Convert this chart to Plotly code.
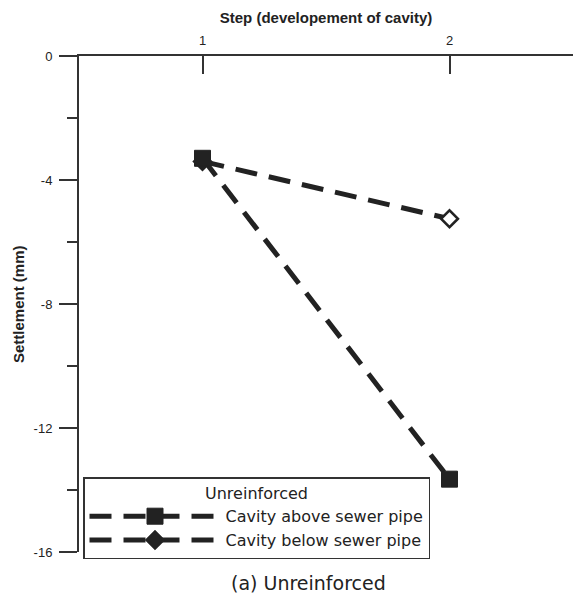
import plotly.graph_objects as go

steps = [1, 2]
above = [-3.3, -13.65]
below = [-3.4, -5.25]
series_names = ["Cavity above sewer pipe", "Cavity below sewer pipe"]
y_ticks = [0, -4, -8, -12, -16]
y_tick_labels = ["0", "-4", "-8", "-12", "-16"]

ink = "#222222"
fig = go.Figure()
fig.add_trace(go.Scatter(
    x=steps, y=below, name=series_names[1], mode="lines+markers",
    line=dict(color=ink, width=5, dash="22px,12px"),
    marker=dict(symbol="diamond", size=13, color=[ink, "white"],
                line=dict(color=ink, width=2.5)),
))
fig.add_trace(go.Scatter(
    x=steps, y=above, name=series_names[0], mode="lines+markers",
    line=dict(color=ink, width=5, dash="22px,12px"),
    marker=dict(symbol="square", size=16, color=ink,
                line=dict(color=ink, width=1)),
))

fig.update_layout(
    width=573, height=602,
    margin=dict(l=79, r=0, t=56, b=50, autoexpand=False),
    paper_bgcolor="white", plot_bgcolor="white",
    font=dict(family="Liberation Sans, Arial, sans-serif", color=ink, size=13),
    showlegend=True,
    legend=dict(
        xref="container", yref="container",
        x=83 / 573, y=(602 - 559) / 602, xanchor="left", yanchor="bottom",
        bgcolor="white", bordercolor="#333", borderwidth=1.5,
        font=dict(size=16, family="DejaVu Sans, sans-serif"),
        title=dict(text="Unreinforced", side="top center",
                   font=dict(size=16, family="DejaVu Sans, sans-serif")),
        traceorder="reversed", itemwidth=131,
        entrywidth=356,
    ),
    xaxis=dict(
        side="top", range=[0.5, 2.5], tickvals=steps,
        ticktext=[str(s) for s in steps],
        ticks="inside", ticklen=18, tickwidth=1.5, tickcolor="#333",
        ticklabelstandoff=4,
        showline=True, linecolor="#333", linewidth=2,
        showgrid=False, zeroline=False,
        tickfont=dict(size=13),
        title=dict(text="<b>Step (developement of cavity)</b>", font=dict(size=15), standoff=6),
    ),
    yaxis=dict(
        range=[-16, 0], tickvals=y_ticks, ticktext=y_tick_labels,
        ticks="outside", ticklen=18, tickwidth=1.5, tickcolor="#333",
        ticklabelstandoff=4,
        showline=True, linecolor="#333", linewidth=2,
        showgrid=False, zeroline=False,
        tickfont=dict(size=13),
        minor=dict(dtick=2, ticks="outside", ticklen=10, tickwidth=1.5, tickcolor="#333", showgrid=False),
    ),
    annotations=[
        dict(
            text="(a) Unreinforced", xref="paper", yref="paper",
            x=0.465, y=-(583 - 552) / 496, xanchor="center", yanchor="middle", showarrow=False,
            font=dict(size=19, family="DejaVu Sans, sans-serif", color=ink),
        ),
        dict(
            text="<b>Settlement (mm)</b>", xref="paper", yref="paper",
            x=-(79 - 18) / 494, y=0.5, xanchor="center", yanchor="middle",
            textangle=-90, showarrow=False,
            font=dict(size=15, color=ink),
        ),
    ],
)

fig.write_html(
    "out.html", config={"displayModeBar": False},
    post_script=("document.body.style.margin='0px';"
                 "document.body.style.overflow='hidden';"
                 "document.documentElement.style.overflow='hidden';"),
)
